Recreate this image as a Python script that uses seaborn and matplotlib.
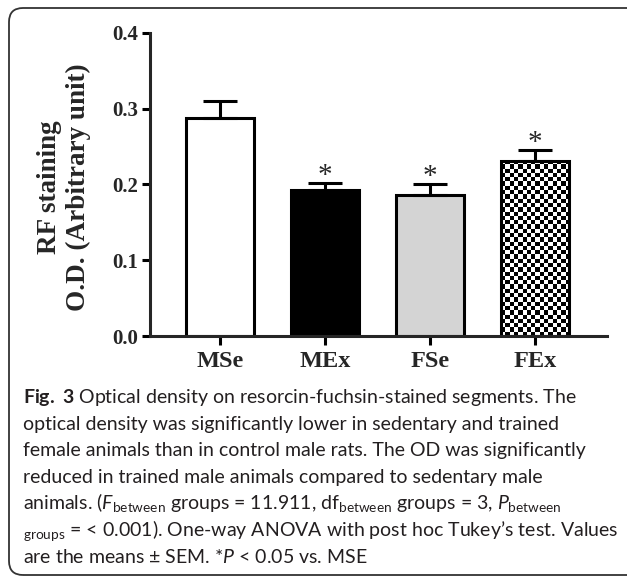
import numpy as np
import pandas as pd
import matplotlib
matplotlib.use('Agg')
import matplotlib.pyplot as plt
import seaborn as sns
from matplotlib.patches import FancyBboxPatch
from matplotlib.transforms import IdentityTransform

# values (mean and SEM of optical density)
groups = ['MSe', 'MEx', 'FSe', 'FEx']
od_mean = [0.288, 0.193, 0.186, 0.231]
od_sem = [0.022, 0.009, 0.014, 0.014]
signif = ['', '*', '*', '*']
bar_colors = ['white', 'black', '#d4d4d4', 'white']
y_ticks = [0.0, 0.1, 0.2, 0.3, 0.4]
y_tick_labels = ['0.0', '0.1', '0.2', '0.3', '0.4']

caption_lines = [
    r'$\mathbf{Fig.\ 3}$ Optical density on resorcin-fuchsin-stained segments. The',
    'optical density was significantly lower in sedentary and trained',
    'female animals than in control male rats. The OD was significantly',
    'reduced in trained male animals compared to sedentary male',
    r'animals. ($F_{\mathrm{between}}$ groups = 11.911, df$_{\mathrm{between}}$ groups = 3, $P_{\mathrm{between}}$',
    r'${}_{\mathrm{groups}}$ = < 0.001). One-way ANOVA with post hoc Tukey’s test. Values',
    r'are the means ± SEM. *$P$ < 0.05 vs. MSE',
]

sns.set_style('ticks')
plt.rcParams['mathtext.fontset'] = 'custom'
plt.rcParams['mathtext.rm'] = 'Lato'
plt.rcParams['mathtext.it'] = 'Lato:italic'
plt.rcParams['mathtext.bf'] = 'Lato:bold'

W, H = 627, 578
fig = plt.figure(figsize=(W / 100, H / 100), dpi=100)
ax = fig.add_axes([150 / W, 1 - 336 / H, 457 / W, 303.3 / H])

df = pd.DataFrame({'group': groups, 'od': od_mean})
sns.barplot(data=df, x='group', y='od', hue='group', palette=bar_colors,
            saturation=1, legend=False, width=0.65, errorbar=None,
            edgecolor='black', linewidth=2.2, ax=ax)

# one-sided SEM bars
ax.errorbar(range(len(groups)), od_mean, yerr=[np.zeros(len(groups)), od_sem],
            fmt='none', ecolor='black', elinewidth=2.2, capsize=12, capthick=2.2,
            zorder=3)

for i, (m, s, star) in enumerate(zip(od_mean, od_sem, signif)):
    if star:
        ax.annotate(star, xy=(i, m + s), xytext=(0, 0), textcoords='offset points',
                    ha='center', va='baseline', fontsize=21,
                    family='Liberation Serif')

ax.set_xlim(-0.667, 3.686)
ax.set_ylim(0, 0.4)

# checkerboard fill for FEx, clipped to its bar
bar = ax.patches[3]
x0, y0, w, h = bar.get_x(), bar.get_y(), bar.get_width(), bar.get_height()
p0 = ax.transData.transform((x0, y0))
p1 = ax.transData.transform((x0 + w, y0 + h))
ncol = 16
nrow = int(round(ncol * (p1[1] - p0[1]) / (p1[0] - p0[0])))
checker = np.indices((nrow, ncol)).sum(axis=0) % 2
bar.set_facecolor('none')
im = ax.imshow(checker, cmap='gray_r', extent=(x0, x0 + w, y0, y0 + h),
               origin='lower', aspect='auto', interpolation='nearest',
               zorder=bar.get_zorder() - 0.1)
im.set_clip_path(bar)
ax.set_xlim(-0.667, 3.686)
ax.set_ylim(0, 0.4)

sns.despine(ax=ax)
for side in ['left', 'bottom']:
    ax.spines[side].set_linewidth(2.2)
ax.set_yticks(y_ticks)
ax.set_yticklabels(y_tick_labels, fontsize=15, fontweight='bold',
                   family='Liberation Serif')
ax.set_xticks(range(len(groups)))
ax.set_xticklabels(groups, fontsize=17.5, fontweight='bold',
                   family='Liberation Serif')
ax.tick_params(axis='y', width=2.2, length=5.8, pad=3, color='black')
ax.tick_params(axis='x', width=2.2, length=6.5, pad=4, color='black')
ax.set_xlabel('')
ax.set_ylabel('RF staining\nO.D. (Arbitrary unit)', fontsize=19.5,
              fontweight='bold', family='Liberation Serif', linespacing=1.15)
ax.yaxis.label.set_va('center')
ax.yaxis.set_label_coords((64 - 150) / 457, 0.49)

# caption under the chart
for k, line in enumerate(caption_lines):
    fig.text(23 / W, 1 - (403 + 26.6 * k) / H, line, fontsize=14,
             family='Lato', color='#231f20', va='baseline', ha='left')

# rounded frame around figure and caption
frame = FancyBboxPatch((9, H - 575), 700, 567,
                       boxstyle='round,pad=0,rounding_size=14',
                       transform=IdentityTransform(), fill=False,
                       edgecolor='#333333', linewidth=1.3)
fig.add_artist(frame)

fig.savefig('out.png', dpi=100)
